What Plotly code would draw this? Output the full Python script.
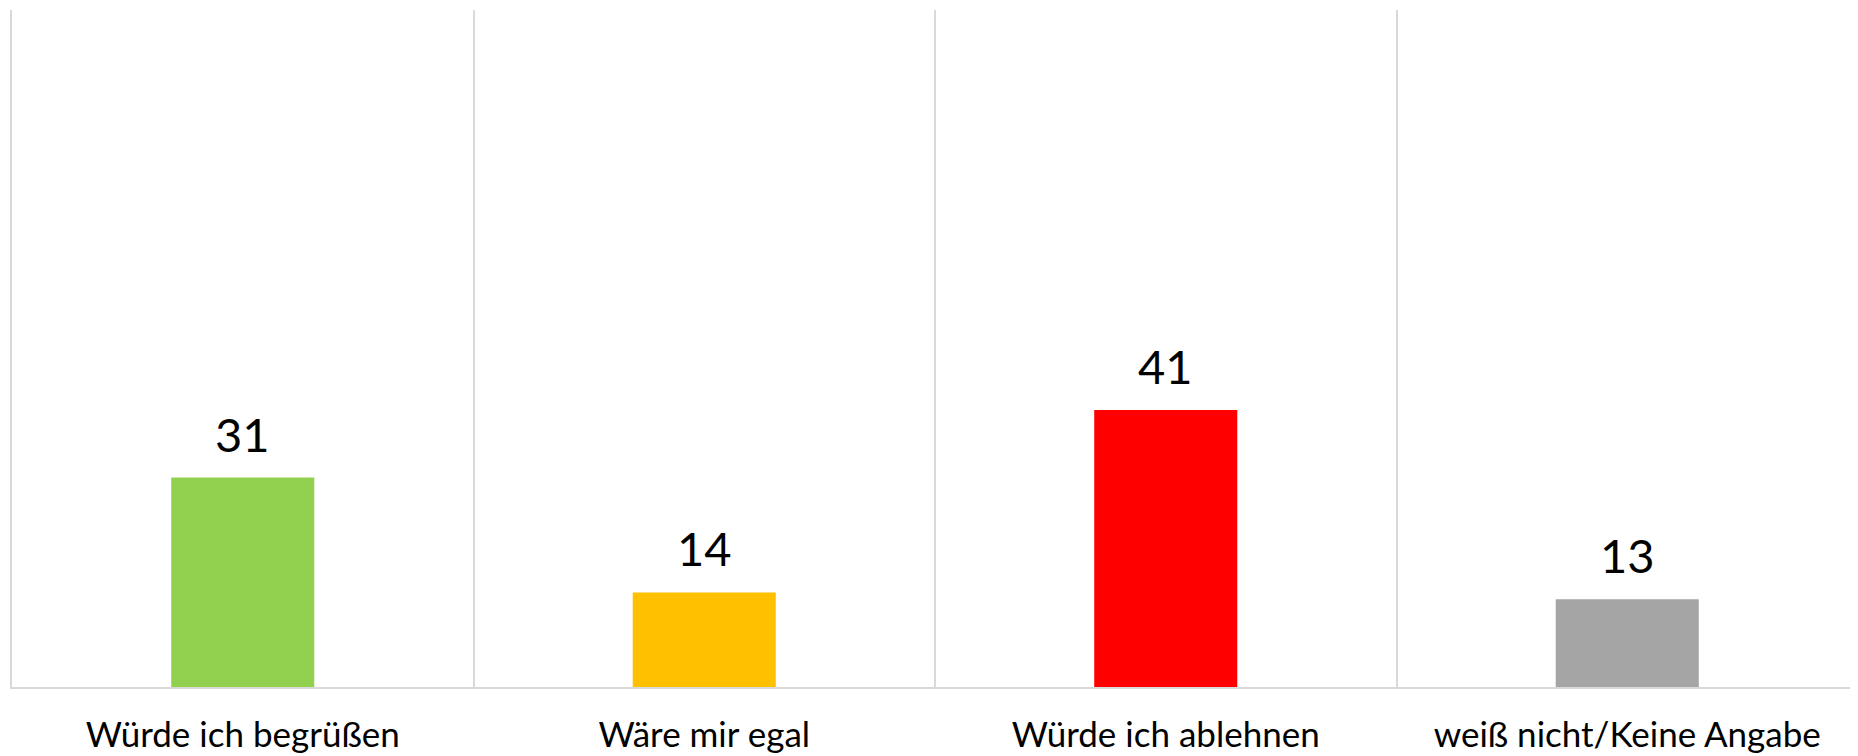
import plotly.graph_objects as go

categories = ["Würde ich begrüßen", "Wäre mir egal", "Würde ich ablehnen", "weiß nicht/Keine Angabe"]
values = [31, 14, 41, 13]
colors = ["#92d050", "#ffc000", "#ff0000", "#a5a5a5"]

FONT = "Lato"

fig = go.Figure()
fig.add_trace(go.Bar(
    x=categories,
    y=values,
    marker=dict(color=colors, line=dict(width=0)),
    width=0.31,
    hoverinfo="x+y",
))

for c, v in zip(categories, values):
    fig.add_annotation(
        x=c, y=v, text=str(v), showarrow=False,
        xref="x", yref="y", yanchor="bottom", yshift=14,
        font=dict(family=FONT, size=47, color="#000000"),
    )

fig.update_layout(
    width=1858, height=756,
    margin=dict(l=4, r=8, t=2, b=77, autoexpand=False),
    paper_bgcolor="white", plot_bgcolor="white",
    showlegend=False,
    font=dict(family=FONT, color="#000000"),
)
fig.update_xaxes(
    tickson="boundaries",
    showgrid=True, gridcolor="#d9d9d9", gridwidth=1.5,
    showline=True, linecolor="#d9d9d9", linewidth=1.5,
    ticks="", ticklabelstandoff=16,
    tickfont=dict(family=FONT, size=35, color="#000000"),
    range=[-0.5, 3.5], automargin=False,
)
fig.update_yaxes(
    range=[0, 100.2],
    showgrid=False, zeroline=False,
    showticklabels=False,
    showline=True, mirror=True, linecolor="#d9d9d9", linewidth=1.5,
)

fig.write_html("out.html")
